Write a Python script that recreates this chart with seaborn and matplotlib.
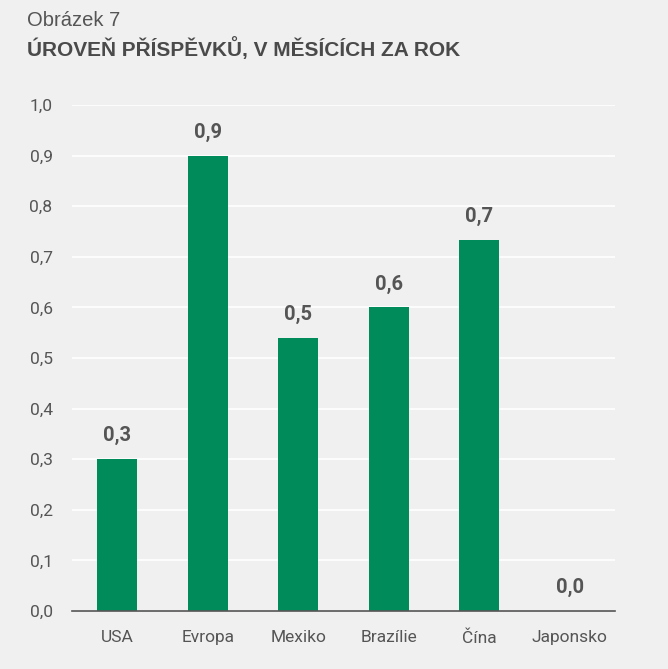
import matplotlib
matplotlib.use("Agg")
import matplotlib.pyplot as plt
import seaborn as sns
import pandas as pd
from matplotlib import font_manager as fm
from matplotlib.ticker import FuncFormatter

categories = ["USA", "Evropa", "Mexiko", "Brazílie", "Čína", "Japonsko"]
values = [0.30, 0.90, 0.54, 0.60, 0.733, 0.0]
labels = ["0,3", "0,9", "0,5", "0,6", "0,7", "0,0"]
yticks = [0.0, 0.1, 0.2, 0.3, 0.4, 0.5, 0.6, 0.7, 0.8, 0.9, 1.0]

names = {f.name for f in fm.fontManager.ttflist}
narrow = "Liberation Sans Narrow" if "Liberation Sans Narrow" in names else "Roboto"
regular = "Liberation Sans"

bg = "#f0f0f0"
green = "#008c5a"
txt = "#555555"

sns.set_theme(style="white")
plt.rcParams["font.family"] = [narrow, "DejaVu Sans"]

fig = plt.figure(figsize=(6.68, 6.69), dpi=100, facecolor=bg)
ax = fig.add_axes([72/668, 1-611/669, (615-72)/668, (611-105)/669])
ax.set_facecolor(bg)

df = pd.DataFrame({"cat": categories, "val": values})
sns.barplot(data=df, x="cat", y="val", color=green, width=0.44, ax=ax,
            saturation=1, edgecolor="none")

ax.set_ylim(0, 1.0)
ax.set_xlim(-0.5, 5.5)
ax.set_yticks(yticks)
ax.yaxis.set_major_formatter(FuncFormatter(lambda v, p: f"{v:.1f}".replace(".", ",")))
ax.grid(axis="y", color="white", linewidth=1.2)
ax.set_axisbelow(True)
for s in ["top", "right", "left"]:
    ax.spines[s].set_visible(False)
ax.spines["bottom"].set_color("#555555")
ax.spines["bottom"].set_linewidth(1.2)
ax.tick_params(axis="both", length=0, labelsize=12.5, colors=txt)
ax.tick_params(axis="x", pad=14)
ax.tick_params(axis="y", pad=14)
ax.set_xlabel("")
ax.set_ylabel("")

for i, (v, l) in enumerate(zip(values, labels)):
    ax.annotate(l, (i, v), xytext=(0, 10), textcoords="offset points",
                ha="center", va="bottom", fontsize=14.5, fontweight="bold", color=txt)

fig.text(27/668, 1-20/669, "Obrázek 7", fontsize=14.5, color=txt,
         family=[regular, "DejaVu Sans"], va="center", ha="left")
fig.text(27/668, 1-49/669, "ÚROVEŇ PŘÍSPĚVKŮ, V MĚSÍCÍCH ZA ROK", fontsize=15,
         fontweight="bold", color="#4a4a4a", family=[regular, "DejaVu Sans"],
         va="center", ha="left")

fig.savefig("out.png", dpi=100, facecolor=bg)
